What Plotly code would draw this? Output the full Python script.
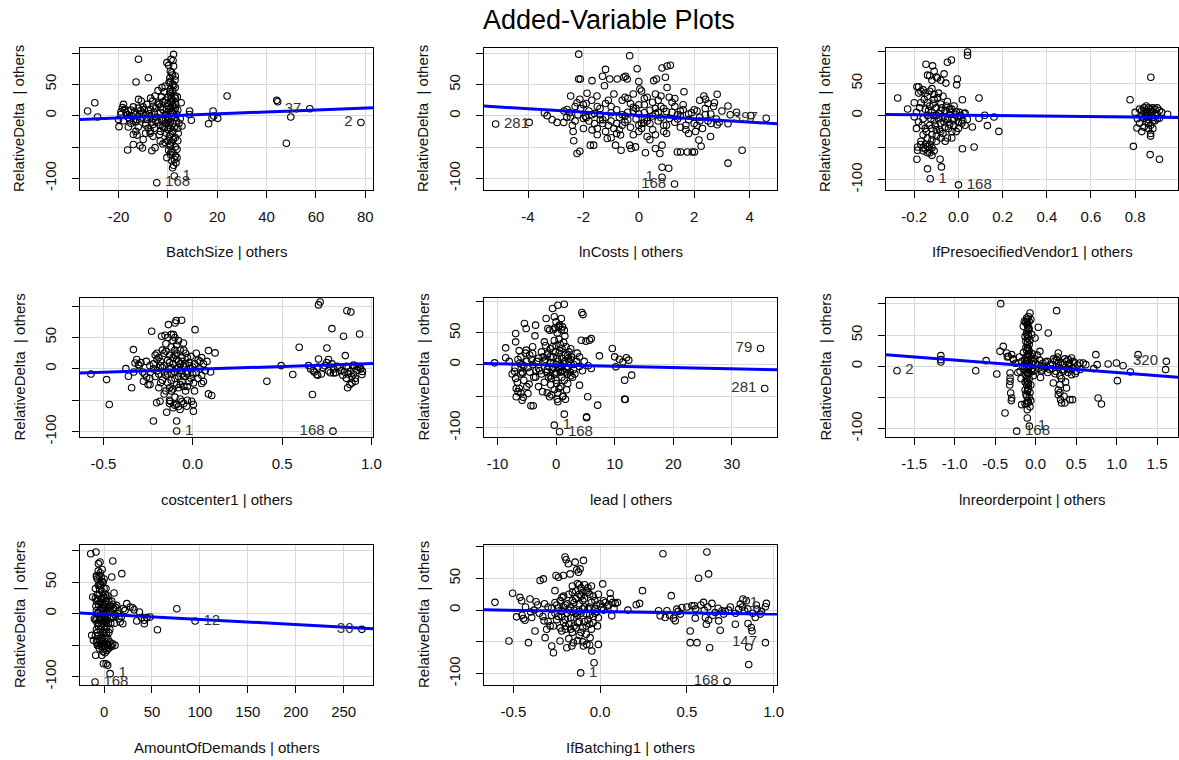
import plotly.graph_objects as go

W, H = 1179, 760

title_text = "Added-Variable Plots"
y_title = "RelativeDelta\u00a0 | others"
x_titles = ["BatchSize | others", "lnCosts | others", "IfPresoecifiedVendor1 | others",
            "costcenter1 | others", "lead | others", "lnreorderpoint | others",
            "AmountOfDemands | others", "IfBatching1 | others"]

# ---------------- data ----------------
batch_pts = [(-32.5,7.4),(-29.6,20.7),(-28.5,-2),(-19.8,-17.5),(-19,6),(-18.4,12.8),(-16.3,-54.8),(-14,-46),
    (-12.9,53.7),(-11.9,90),(-12.5,-31),(-11.3,-48),(-10.3,-51.6),(-11.9,26),(-10.8,23.4),(-7.9,60.6),(-7.2,-28),
    (-6.5,-56),(-5.2,-51),(-4.5,-107),(-6.2,23.4),(-5.2,31.4),(-2.4,44.7),(-1.1,47.3),(-0.4,84.6),(0.3,80.3),(1,71),
    (2.3,97.9),(2.3,79),(1.6,68.6),(3,63.3),(0.5,52.7),(-0.4,-67),(1,-61.7),(3,-64.4),(3.7,-67),(2.3,-79),(1.9,-83),
    (2.6,-96.3),(1,-48.4),(-1.1,-43),(-3.1,-40.4),(3.7,-53.7),(5.7,-16.5),(5.4,20.7),(8.8,7.4),(9.5,-7.4),(8.7,2),
    (16.5,-12.8),(18.3,7.4),(18.6,-0.5),(17.9,-3.2),(20.2,-4.3),(24,31.4),(44.1,24.5),(44.5,22.3),(57.5,11),
    (49.8,-2.1),(48,-44),(78.2,-11),
    (-17,5),(-16,-3),(-15,9),(-14,-8),(-13,2),(-12,12),(-11,-5),(-10,4),(-9,-12),(-8,8),(-7,-2),(-6,15),(-5,-8),
    (-4,3),(-3,-15),(-2,10),(-1,-4),(0,6),(1,-10),(2,18),(3,-3),(4,9),(-18,-8),(-15,-12),(-12,-18),(-10,14),(-8,-20),
    (-6,-5),(-4,20),(-3,-25),(-2,-18),(-1,25),(0,30),(1,35),(2,40),(3,28),(0,-22),(1,-30),(2,-25),(3,-35),(0,-40),
    (1,-45),(2,15),(2,-12),(1,12),(0,-8),(-1,2),(-2,-6),(-5,12),(-7,10),(-9,2),(-11,8),(-13,-10),(-14,14),(-16,8),
    (-19,2),(-20,-6),(4,-20),(5,-5),(3,45),(1,55),(2,50),(0,20),(-1,-12),(-3,5),(-4,-10),(-6,-14),(-7,-25),(-9,-15),
    (3,-50),(2,-58),(4,-40),(1,-20),(2,5),(3,12),(2,25),(1,3),(0,-2),(-2,22),(-3,14),
    (0.5,-15),(1.5,-5),(2.5,8),(1.2,22),(2.8,32),(0.8,38),(2.2,-38),(1.7,-42),(0.2,15),(1.4,28),(2.6,-18),(3.4,-8),
    (3.2,18),(1.8,-28),(0.6,-33),(2.4,48),(1.1,42),(3.6,2),(4.5,-12),(-0.5,10),(-1.5,-20),(-2.5,-8),(-3.5,18),
    (-4.5,-2),(-5.5,5),(-6.5,-10),(-7.5,3),(-8.5,-6),(-9.5,10),(-10.5,-2),(-11.5,3),(-12.5,-6),(-13.5,6),(-14.5,0),
    (-15.5,-5),(-16.5,2),(-17.5,10),(-5.5,-20),(-3.5,-30),(-8.5,18),(-2.5,30),(-1.5,38),(-0.5,-28),(0.3,-55),
    (1.3,-58),(2.7,-70),(1.6,-72),(3.3,-75),(0.8,60),(2.9,57),(1.9,65),(2.1,88),(1.3,90),(3.8,30),(4.2,-28),(-6,-33),
    (-9,-28),(-13,-25),(-16,-18),(-18,18),(-14,-30),(-10,-38),(-2,-45),(-4,40),(-7,28)]

lncost_pts = [(-5.17,-13),(-3.96,-10.3),(-3.41,4.9),(-3.31,0.5),(-3.13,-6),(-2.95,-10.3),(-2.71,-10.3),(-2.47,-1.6),
    (-2.59,10.3),(-2.46,32),(-2.37,-25),(-2.35,-39.7),(-2.23,-60),(-2.13,-56.5),(-2.17,98.9),(-2.17,59),(-2.11,59),
    (-2.13,26.6),(-2.23,21),(-1.93,-0.5),(-1.87,36.4),(-1.75,-46.7),(-1.63,-46.7),(-1.69,56.5),(-1.69,-22.3),
    (-1.51,32),(-1.39,-6),(-1.31,63.6),(-1.2,74.5),(-1.24,48.4),(-1.14,-36),(-1.05,59),(-0.78,59),(-0.66,-30.4),
    (-0.64,-55),(-0.84,-46.7),(-0.54,62),(-0.42,59),(-0.48,63.6),(-0.33,96.2),(-0.33,-46.7),(-0.28,-52),
    (-0.12,-49.5),(-0.06,75.5),(0,55),(0.04,43),(0.18,-11.4),(0.3,-33),(0.24,-59),(0.54,56.5),(0.64,59),(0.6,-52),
    (0.76,-60),(0.84,-46.7),(0.84,76.6),(0.96,62),(1.02,80),(1.14,81),(1.02,45.6),(0.84,-82),(1.08,-83.7),
    (0.84,-98),(1.29,-109),(1.39,-57.6),(1.51,-57.6),(1.63,38.6),(1.75,-57.6),(1.93,-57.6),(2.01,-57.6),(2.05,-25),
    (2.17,-38.6),(2.25,-48.4),(2.35,32),(2.41,26.6),(2.59,-33),(2.73,21),(2.83,34.8),(2.83,-14),(3.22,15.8),
    (3.22,-12.5),(3.22,-75.5),(3.53,6),(3.73,-55),(4.04,0.5),(4.6,-3.8),
    (-2.5,5),(-2.3,-8),(-2.1,12),(-1.9,-3),(-1.8,8),(-1.6,-12),(-1.5,15),(-1.4,2),(-1.3,-6),(-1.2,20),(-1.1,-15),
    (-1,5),(-0.9,-20),(-0.8,10),(-0.7,-2),(-0.6,25),(-0.5,-10),(-0.4,6),(-0.3,-18),(-0.2,14),(-0.1,-5),(0,3),
    (0.1,-12),(0.2,18),(0.3,-3),(0.4,9),(0.5,-22),(0.6,4),(0.7,-8),(0.8,15),(0.9,-15),(1,7),(1.1,-4),(1.2,22),
    (1.3,-10),(1.4,2),(1.5,-18),(1.6,10),(1.8,-6),(1.9,5),(2,-12),(2.1,8),(2.2,-2),(2.4,12),(2.5,-8),(2.6,3),
    (2.8,-5),(3,8),(-2,-20),(-1.7,25),(-1.2,-25),(-0.8,-28),(-0.4,28),(0,-25),(0.3,30),(0.7,25),(1,-28),(1.3,28),
    (-2.4,-15),(-2,18),(-0.5,0),(0.5,0),(1.5,0),(-1,-8),(0.2,-6),(0.9,12),(1.7,-15),(2.3,-20),(2.7,15),(-0.2,35),
    (0.6,35),(0.1,40),(-1,-35),(0.4,-38),
    (-2.2,2),(-2,-4),(-1.8,-8),(-1.6,4),(-1.4,12),(-1.2,-2),(-1,15),(-0.8,-12),(-0.6,2),(-0.4,-6),(-0.2,8),(0,-15),
    (0.2,5),(0.4,-12),(0.6,12),(0.8,-3),(1,-15),(1.2,6),(1.4,-5),(1.6,18),(1.8,3),(2,10),(2.2,-8),(2.4,2),(2.6,-12),
    (-2.3,15),(-1.9,20),(-1.5,-20),(-1.1,25),(-0.7,-22),(-0.3,20),(0.1,-20),(0.5,22),(0.9,-25),(1.3,15),(1.7,-22),
    (2.1,-15),(2.5,20),(-0.9,35),(-0.5,30),(0.2,28),(0.8,32),(1.1,30),(-1.5,-30),(-0.2,-30),(0.6,-30),(1.8,-28),
    (-2.6,-2),(-2.7,8),(-0.1,12),(0.3,-8),(0.7,6),(1.5,8),(-1.3,-12),(-0.6,-15),(2.9,-10),(3.3,2),(2.2,25),(-1.7,2),
    (0,18)]

vendor_pts = [(-0.275,27.4),(-0.23,10.2),(-0.188,45),(-0.185,-54),(-0.188,-68),(-0.185,-49),(-0.147,80),
    (-0.14,-83),(-0.128,-98.5),(-0.117,77.5),(-0.11,69),(-0.14,63),(-0.095,58.6),(-0.083,-68),(-0.077,-80),
    (-0.065,65),(-0.057,50.6),(-0.05,83),(-0.032,86.6),(-0.005,57),(-0.008,47.9),(0.041,99),(0.041,93.6),(0,-108),
    (0.018,-51.6),(0.018,24.7),(0.071,-49),(0.063,-17.8),(0.093,27.4),(0.093,-4.3),(0.119,0.5),(0.131,-15.6),
    (0.161,-2.2),(0.183,-24.7),
    (-0.19,5),(-0.18,-10),(-0.17,20),(-0.16,-5),(-0.15,10),(-0.15,-20),(-0.14,30),(-0.14,0),(-0.13,-15),(-0.13,15),
    (-0.12,-30),(-0.12,5),(-0.11,25),(-0.11,-8),(-0.1,12),(-0.1,-22),(-0.09,3),(-0.09,35),(-0.08,-12),(-0.08,18),
    (-0.07,-3),(-0.07,-28),(-0.06,8),(-0.06,-18),(-0.05,22),(-0.05,-6),(-0.04,2),(-0.04,-14),(-0.03,10),
    (-0.03,-25),(-0.02,-4),(-0.01,6),(0,-10),(0.01,0),(0.02,-8),(0.03,4),(0.04,-6),(-0.16,40),(-0.12,42),
    (-0.17,-40),(-0.14,-48),(-0.13,-52),(-0.12,-50),(-0.11,-55),(-0.15,-52),(-0.13,-45),(-0.1,-40),(-0.08,-35),
    (-0.18,35),(-0.2,-2),(-0.07,30),(-0.05,-35),(-0.02,15),(0.0,-20),(-0.09,-5),(-0.11,0),
    (-0.175,12),(-0.165,-15),(-0.155,25),(-0.145,-25),(-0.135,8),(-0.125,-5),(-0.115,18),(-0.105,-15),(-0.095,28),
    (-0.085,-22),(-0.075,12),(-0.065,-10),(-0.055,15),(-0.045,-20),(-0.035,5),(-0.025,-8),(-0.015,2),(-0.005,-2),
    (-0.16,-30),(-0.14,-35),(-0.12,-38),(-0.1,-32),(-0.08,-25),(-0.06,-40),(-0.15,35),(-0.13,38),(-0.11,33),
    (-0.17,-45),(-0.16,-55),(-0.14,-58),(-0.12,-62),(-0.16,-50),(-0.15,-45),(-0.13,-58),(-0.12,-20),(-0.1,0),
    (-0.14,20),(-0.08,8),(-0.06,-5),(-0.04,10),(-0.02,-15),(0.005,5),(0.015,-12),(0.025,3),(-0.19,-20),(-0.2,20),
    (-0.18,45),(-0.17,38),(-0.12,55),(-0.1,60),(-0.08,55),(-0.13,62),(-0.03,-35),(-0.01,-25),(0.03,-15),
    (0.777,24.7),(0.792,-48),(0.808,-19.4),(0.871,59.7),(0.868,-60.8),(0.91,-68),(0.947,2),
    (0.8,5),(0.81,-5),(0.82,10),(0.83,-2),(0.84,8),(0.85,-10),(0.85,3),(0.86,12),(0.86,-6),(0.87,0),(0.87,-15),
    (0.88,6),(0.88,-3),(0.89,10),(0.89,-8),(0.9,2),(0.91,-4),(0.92,5),(0.84,-18),(0.86,-20),(0.87,-28),(0.83,-25),
    (0.88,-20),(0.9,12),(0.85,15),(0.82,-12),(0.87,-32),
    (0.83,8),(0.84,-4),(0.85,6),(0.86,-12),(0.87,10),(0.88,-8),(0.89,2),(0.9,-5),(0.91,8),(0.86,2),(0.87,6),
    (0.85,-2),(0.88,12),(0.84,12)]

cc_pts = [(-0.57,-8),(-0.482,-17),(-0.467,-56.8),(-0.374,0.5),(-0.36,-11.7),(-0.342,-30),(-0.332,30.8),
    (-0.323,9.5),(-0.314,14.9),(-0.304,6.9),(-0.276,-19.6),(-0.258,-13.3),(-0.239,-25),(-0.23,60),(-0.22,-83),
    (-0.202,-54),(-0.183,-51.5),(-0.174,52),(-0.155,53.6),(-0.146,-69),(-0.136,70.6),(-0.127,-51.5),(-0.108,54.6),
    (-0.099,73.2),(-0.093,77),(-0.09,-83),(-0.09,-99),(-0.09,-56.8),(-0.071,-64.7),(-0.062,77.5),(-0.052,41.4),
    (-0.034,-59.4),(-0.006,-51.5),(0.004,-67.4),(0.013,62.6),(0.004,-56.8),(0.004,-22.3),(0.05,-23.3),(0.088,29.2),
    (0.088,-39.8),(0.106,-42.4),(0.125,25.5),(0.041,12.2),(0.415,-19.6),(0.495,5.3),(0.56,-9),(0.596,34.5),
    (0.648,5.3),(0.67,-40.8),(0.675,-2.6),(0.704,102),(0.713,106.6),(0.704,15.9),(0.695,-9),(0.751,33.4),
    (0.76,14.9),(0.779,64.2),(0.785,-99.2),(0.788,-6.4),(0.844,52),(0.854,21.2),(0.863,92.8),(0.885,90.7),
    (0.867,-30),(0.891,-22.3),(0.91,-19.6),(0.934,55.7),(0.938,1.6),(0.947,-9),
    (-0.3,5),(-0.28,-5),(-0.26,12),(-0.24,-15),(-0.22,8),(-0.2,-3),(-0.19,18),(-0.18,-22),(-0.17,2),(-0.16,25),
    (-0.15,-10),(-0.14,14),(-0.13,-30),(-0.13,0),(-0.12,35),(-0.12,-18),(-0.11,8),(-0.1,-5),(-0.1,22),(-0.09,-25),
    (-0.08,12),(-0.08,-12),(-0.07,30),(-0.07,-2),(-0.06,-20),(-0.06,18),(-0.05,5),(-0.04,-35),(-0.04,25),
    (-0.03,-8),(-0.02,10),(-0.01,-15),(0,3),(0.02,-6),(0.03,14),(0.05,-10),(0.06,8),(0.08,12),(0.07,-3),
    (-0.25,-25),(-0.21,22),(-0.15,40),(-0.11,45),(-0.09,38),(-0.16,-40),(-0.1,-45),(-0.13,-50),(-0.07,-48),
    (-0.05,-55),(-0.08,-60),(-0.03,-50),(0.01,-35),(-0.2,15),(-0.14,-8),(-0.09,0),(-0.05,-28),(-0.18,5),(0.04,0),
    (-0.01,20),(-0.11,-32),
    (-0.22,0),(-0.21,-12),(-0.2,25),(-0.19,-8),(-0.18,12),(-0.17,-18),(-0.16,5),(-0.15,28),(-0.14,-22),(-0.13,10),
    (-0.12,-8),(-0.11,18),(-0.1,-15),(-0.09,25),(-0.08,2),(-0.07,-25),(-0.06,12),(-0.05,-12),(-0.04,8),(-0.03,18),
    (-0.02,-20),(-0.01,0),(0.01,8),(0.03,-15),(0.05,18),(-0.17,30),(-0.13,22),(-0.09,15),(-0.05,30),(-0.12,-35),
    (-0.08,-30),(-0.03,-28),(-0.15,-35),(-0.1,30),(-0.07,8),(-0.04,-5),(-0.16,-5),(-0.12,2),(-0.06,-8),(-0.02,5),
    (0.0,-8),(-0.19,-30),(-0.24,5),(-0.27,-8),(-0.29,10),(-0.33,-5),(-0.14,50),(-0.12,55),(-0.1,50),(-0.08,45),
    (-0.13,-55),(-0.1,-58),(-0.06,-52),(-0.11,-62),(0.02,25),(0.06,-20),(0.1,-5),
    (0.66,0),(0.68,-5),(0.7,3),(0.72,-8),(0.74,5),(0.76,-3),(0.78,8),(0.8,-6),(0.82,2),(0.84,-10),(0.86,4),
    (0.88,-4),(0.9,6),(0.92,-2),(0.94,0),(0.89,-12),(0.91,-15),(0.87,-8),(0.83,-3),(0.79,0),(0.93,3),
    (0.7,-10),(0.73,2),(0.77,-6),(0.81,4),(0.85,-5),(0.87,2),(0.9,-8),(0.92,4),(0.86,-15),(0.88,-25),(0.95,-4),
    (0.75,10)]

lead_pts = [(-10.5,2.6),(-8.6,26.4),(-8.6,10.6),(-6.9,49),(-6.9,35.9),(-7.1,-10.6),(-6.9,-22),(-6.8,-51),
    (-6.5,-43),(-6.3,-38),(-5.8,-56.5),(-5.7,-14),(-5.4,65),(-5.1,57),(-5.1,22.7),(-4.8,-46),(-4.6,-31),
    (-4.3,-65.4),(-3.9,-65.4),(-3.5,62.3),(-3.6,45.4),(-4,17.4),(-3.4,-9),(-2.3,-43),(-2,35.9),(-1.7,72.8),
    (-1.4,57),(-1.1,54.4),(-0.6,88.6),(-0.3,75.5),(0,67.5),(0.3,93.9),(0.6,62.3),(0.9,72.8),(1.1,59.6),(1.4,95.5),
    (1.4,54.4),(-0.3,-96),(0.6,-106.6),(1.4,-78.6),(0.3,-59),(-1.1,-51),(1.1,-51),(4,-32.7),(4.3,38.5),(4.4,82.3),
    (4.6,79),(5.1,37),(5.4,-51),(5.2,-82.8),(5.2,-84.4),(5.7,38.5),(6,41),(6,-6.3),(7.1,-64.4),(7.4,13.7),
    (9.6,25.3),(10,12.1),(10.2,-3.7),(10.8,8.4),(11.4,4.2),(11.7,-24.8),(11.7,-54.9),(11.8,-55.4),(12,10.6),
    (12.4,6.9),(12.9,-16.9),(34.9,25.3),(35.6,-38),
    (-7,-5),(-6.5,8),(-6,-15),(-6,12),(-5.5,-2),(-5.5,-25),(-5,5),(-5,-35),(-4.5,15),(-4.5,-12),(-4,0),
    (-3.5,-20),(-3,10),(-3,-6),(-2.5,20),(-2.5,-15),(-2,5),(-2,-28),(-1.5,15),(-1.5,-8),(-1,25),(-1,-18),(-1,3),
    (-0.5,-5),(-0.5,12),(0,30),(0,-25),(0,0),(0,-12),(0.5,18),(0.5,-8),(0.5,40),(1,-3),(1,10),(1,-20),(1,25),
    (1.5,-12),(1.5,5),(1.5,45),(2,-30),(2,15),(2,-5),(2.5,8),(2.5,-18),(3,0),(3,-8),(3.5,5),(4,-3),(4,12),
    (-0.3,-40),(0.3,-45),(1.2,-50),(-0.8,-48),(0.8,-35),(2.2,20),(-1.8,30),(-6.8,-38),(-6,-45),(-5.6,-52),
    (-7.5,-15),(-8,5),(-6.3,22),(-5.8,0),(0.2,50),(-0.5,55),(1.8,-40),
    (-1.8,8),(-1.6,-12),(-1.4,18),(-1.2,-4),(-1,12),(-0.8,-22),(-0.6,28),(-0.4,2),(-0.2,-15),(0.2,10),(0.4,-5),
    (0.6,22),(0.8,-12),(1.2,2),(1.4,-25),(1.6,15),(1.8,-8),(2.2,5),(2.4,-12),(2.6,12),(2.8,-20),(0.1,-30),(0.7,32),
    (1.3,35),(-0.3,38),(0.5,-38),(1.7,28),(-0.9,-32),(2.5,25),(0.3,5),(0.9,-2),(1.1,-10),(1.9,-15),(2.1,10),
    (-0.1,20),(-0.7,-8),(-1.3,-20),(-2.2,12),(-2.8,-10),(-3.3,5),(-3.8,-20),(-4.2,8),(-4.8,-5),(-5.2,18),
    (-5.8,-12),(-6.2,2),(-6.6,-28),(-4,28),(-3,-35),(0.4,60),(0.9,55),(-0.2,58),(1.6,-55),(0.2,-55),(-1.5,-45),
    (3.2,-15),(3.6,18),(4.5,-10),(4.8,5),(5.5,-2)]

reorder_pts = [(-1.713,-7),(-1.171,17.1),(-1.171,10.7),(-1.171,7),(-0.74,-7),(-0.612,9.1),(-0.48,-12.3),
    (-0.44,24),(-0.431,100.5),(-0.4,32),(-0.378,-75),(-0.357,21.4),(-0.337,16),(-0.316,-10.7),(-0.316,-18.7),
    (-0.316,-24),(-0.308,-42.8),(-0.296,-50.8),(-0.296,18.7),(-0.275,10.7),(-0.193,-8),(-0.173,-61.5),
    (-0.234,-104),(-0.152,64.2),(-0.14,72.2),(-0.111,77.5),(-0.09,80),(-0.07,85.6),(-0.103,-83),(-0.078,-96),
    (-0.103,-69.5),(-0.049,50.8),(-0.008,45.5),(0.033,62.6),(0.053,24),(0.156,53.5),(0.218,-26.7),(0.238,9.1),
    (0.259,89.3),(0.28,21.4),(0.28,-45.5),(0.3,-29.4),(0.308,-53.5),(0.32,-58.8),(0.361,-58.8),(0.382,-34.8),
    (0.403,10.7),(0.423,-53.5),(0.444,13.4),(0.456,-53.5),(0.444,-13.4),(0.464,-2.7),(0.546,5.3),(0.588,5.3),
    (0.62,2.7),(0.719,-3.7),(0.744,18.7),(0.76,2.7),(0.772,-50.8),(0.813,-60.4),(0.896,3.7),(0.998,5.3),
    (1.01,-23),(1.08,1),(1.171,-9),(1.266,18.7),(1.615,8),(1.606,-5.3),
    (-0.12,70),(-0.1,65),(-0.08,60),(-0.11,55),(-0.09,50),(-0.1,45),(-0.12,40),(-0.08,35),(-0.1,30),(-0.11,25),
    (-0.09,20),(-0.12,15),(-0.1,10),(-0.08,5),(-0.11,0),(-0.09,-5),(-0.1,-10),(-0.12,-15),(-0.08,-20),(-0.1,-25),
    (-0.11,-30),(-0.09,-35),(-0.1,-40),(-0.12,-45),(-0.08,-50),(-0.1,-55),(-0.11,-60),(-0.07,-65),(-0.13,5),
    (-0.06,12),(-0.05,-8),(-0.14,-5),(-0.04,20),(-0.03,-15),(-0.15,22),(-0.06,-30),(-0.13,-38),(-0.07,42),
    (-0.09,58),(-0.06,75),(-0.2,15),(-0.25,5),(-0.22,-10),(-0.18,-20),(-0.28,12),(-0.17,8),
    (0,5),(0.03,-3),(0.05,10),(0.08,-6),(0.1,0),(0.12,7),(0.15,-10),(0.18,3),(0.2,-4),(0.22,12),(0.25,-8),
    (0.28,5),(0.3,-15),(0.33,2),(0.35,-5),(0.38,8),(0.4,-10),(0.42,4),(0.45,-3),(0.48,6),(0.5,-8),(0.32,-20),
    (0.37,-25),(0.27,15),(0.02,18),(0.06,-18),
    (-0.1,68),(-0.09,62),(-0.11,52),(-0.1,38),(-0.09,28),(-0.1,18),(-0.11,8),(-0.09,-2),(-0.1,-12),(-0.11,-22),
    (-0.09,-28),(-0.1,-38),(-0.11,-48),(-0.09,-58),(-0.12,30),(-0.08,25),(-0.12,-8),(-0.08,-12),(-0.07,0),
    (-0.13,-25),(-0.07,18),(-0.13,48),(-0.07,-42),(-0.06,-55),(-0.13,-60),(-0.12,72),(-0.08,72),(-0.1,75),
    (-0.14,10),(-0.05,5),(-0.04,-3),(-0.16,0),(-0.03,8),(-0.02,-8),(-0.01,12),
    (0.04,2),(0.07,-8),(0.09,5),(0.11,-3),(0.14,8),(0.17,-5),(0.21,2),(0.24,-12),(0.26,10),(0.29,-2),(0.31,6),
    (0.34,-8),(0.36,12),(0.39,-4),(0.41,2),(0.43,-6),(0.46,8),(0.49,-12),(0.52,2),(0.55,-5),(0.3,-42),(0.35,-48),
    (0.28,-38),(-0.3,-55),(-0.32,-30),(-0.35,15)]

amount_pts = [(-13.9,95),(-8.4,97.9),(-9.4,-108.5),(-12.9,-34.4),(-11.1,-42.3),(-8.7,-66),(-5.9,79.4),(-4.2,82),
    (-7.7,58.2),(-11.8,26.5),(-10.1,-8),(-2.4,-66),(-0.7,-79.4),(2.1,-79.4),(3.8,-82),(6.3,-95.2),(8,58.2),
    (9.1,83.6),(10.4,32.8),(11.5,-50.3),(13.2,13.2),(15.7,-7.9),(16.7,-13.2),(18.5,63.5),(19.5,-15.9),(21.9,5.3),
    (23.7,15.9),(27.2,10.6),(29.9,9.5),(31.3,6.3),(34.1,-11.6),(36.9,2.6),(39.3,-6.3),(42,-10.6),(42,-15.9),
    (44.6,-6.3),(48,-5.3),(55.7,-25.4),(75.9,7.9),(95,-11.6),(269,-24.9),
    (-9,40),(-8,20),(-7,0),(-6,-20),(-5,30),(-4,-10),(-3,10),(-2,-30),(-1,50),(0,-5),(1,15),(2,-15),(3,25),
    (4,-40),(5,5),(6,-8),(7,12),(-8,-45),(-6,-50),(-4,-48),(-2,-52),(0,-50),(2,-55),(4,-50),(6,-45),(8,-52),
    (-7,55),(-5,60),(-3,45),(-6,15),(-4,-25),(-2,35),(0,25),(2,40),(1,-35),(3,-20),(-1,-15),(-9,-10),(-8,5),
    (-5,-5),(-3,-40),(0,8),(5,20),(6,-25),(8,-5),(10,8),(12,-2),(-7,-30),(-6,45),(-4,65),(-2,70),(-1,-60),
    (1,-62),(3,-58),(-3,22),(-1,0),(1,-8),(2,3),(4,10),(-9,25),(-7,-15),(9,15),(11,-15),(14,0),
    (-8,-25),(-7,30),(-6,-35),(-5,45),(-4,5),(-3,-20),(-2,15),(-1,-45),(0,40),(1,-25),(2,20),(3,-10),(4,28),
    (-8.5,12),(-7.5,-8),(-6.5,22),(-5.5,-15),(-4.5,38),(-3.5,-5),(-2.5,25),(-1.5,-38),(-0.5,12),(0.5,-20),(1.5,30),
    (2.5,-30),(3.5,8),(4.5,-15),(-7,-50),(-5,-55),(-3,-52),(-1,-50),(1,-52),(3,-48),(5,-55),(7,-50),(9,-48),
    (-8,60),(-6,68),(-3,58),(-2,50),(0,55),(-4,48),(-5,-42),(-7,-42),(-9,-35),(-2,-8),(0,-30),(2,-40),(6,5),
    (7,-15),(8,20),(10,-5),(12,10),(15,5),(18,-5),(20,8),(-6,2),(-4,18),(-1,28),(1,-12),(3,5),(5,-30)]

batching_pts = [(-0.606,12.2),(-0.525,-48.7),(-0.504,26.5),(-0.481,-10.6),(-0.462,20.1),(-0.452,14.8),
    (-0.442,-13.2),(-0.433,-15.9),(-0.413,-51.3),(-0.404,17.5),(-0.394,-11.6),(-0.375,-32.8),(-0.369,13.2),
    (-0.346,46.6),(-0.327,49.2),(-0.323,-16.9),(-0.317,-43.4),(-0.308,-30.2),(-0.288,-24.9),(-0.279,-56.6),
    (-0.269,-67.2),(-0.26,30.7),(-0.254,54.5),(-0.24,51.8),(-0.231,-48.7),(-0.221,-32.8),(-0.212,54.5),
    (-0.202,83.6),(-0.196,79.4),(-0.183,73),(-0.173,57.1),(-0.192,-59.2),(-0.163,-56.6),(-0.154,-51.3),
    (-0.144,75.6),(-0.135,63.5),(-0.125,59.8),(-0.115,65),(-0.096,78.3),(-0.112,-98.9),(-0.096,-56.6),
    (-0.077,-54),(-0.058,-43.4),(-0.048,-64.5),(-0.035,-83),(-0.015,-24.9),(-0.01,-54),(0.015,41.3),(0.019,14.8),
    (0.058,26.5),(0.067,-9),(0.073,12.2),(0.087,10.6),(0.16,0),(0.208,8.5),(0.227,10.6),(0.244,30.7),(0.337,-1),
    (0.346,-9),(0.362,88.9),(0.375,-11.6),(0.385,-1),(0.41,22.8),(0.423,-12.7),(0.433,-16.9),(0.442,1.6),
    (0.462,-6.3),(0.471,4.2),(0.519,-32.8),(0.529,6.9),(0.519,-51.3),(0.542,6.9),(0.548,-12.7),(0.558,-51.3),
    (0.567,50.2),(0.596,12.2),(0.606,-11.6),(0.612,-22.2),(0.615,91.5),(0.625,57.1),(0.625,-15.9),(0.631,-59.2),
    (0.644,10.6),(0.663,-3.7),(0.683,-16.9),(0.692,-31.7),(0.702,-1),(0.712,-6.3),(0.731,-112),(0.74,0),
    (0.779,-22.2),(0.798,1.6),(0.808,9.5),(0.823,17.5),(0.833,-1),(0.842,14.8),(0.852,-21.2),(0.856,-58.2),
    (0.856,-85.7),(0.871,-27.5),(0.875,-32.8),(0.894,-11.6),(0.904,1.6),(0.923,-6.3),(0.952,5.3),(0.952,-51.3),
    (0.958,10.6),
    (-0.3,5),(-0.28,-8),(-0.26,12),(-0.25,-15),(-0.24,3),(-0.22,20),(-0.21,-20),(-0.2,8),(-0.19,-5),(-0.18,25),
    (-0.17,-12),(-0.16,15),(-0.15,-25),(-0.15,0),(-0.14,30),(-0.13,-8),(-0.12,10),(-0.12,-18),(-0.11,35),(-0.1,2),
    (-0.1,-28),(-0.09,18),(-0.08,-6),(-0.07,28),(-0.07,-15),(-0.06,5),(-0.05,38),(-0.04,-10),(-0.03,15),
    (-0.02,-3),(0,10),(0.02,0),(0.04,6),(-0.35,-5),(-0.32,10),(-0.38,0),(-0.45,-8),(-0.43,5),(-0.2,-30),
    (-0.16,-35),(-0.12,-40),(-0.08,-38),(-0.05,-30),(-0.18,-45),(-0.22,-10),(-0.09,40),(-0.13,42),(-0.06,25),
    (-0.14,-5),(-0.11,22),(-0.01,25),(0.06,18),(-0.27,-25),(-0.3,-18),
    (-0.25,8),(-0.24,-10),(-0.23,15),(-0.22,-2),(-0.21,22),(-0.2,-15),(-0.19,10),(-0.18,-22),(-0.17,5),(-0.16,28),
    (-0.15,-12),(-0.14,18),(-0.13,-20),(-0.12,25),(-0.11,-5),(-0.1,15),(-0.09,-18),(-0.08,30),(-0.07,2),
    (-0.06,-22),(-0.05,12),(-0.04,22),(-0.03,-5),(-0.02,8),(-0.01,-12),(0.01,4),(0.03,12),(-0.21,5),(-0.18,0),
    (-0.15,12),(-0.12,-2),(-0.09,5),(-0.06,-8),(-0.03,2),(-0.2,-25),(-0.17,-30),(-0.14,-28),(-0.11,-35),
    (-0.08,-25),(-0.16,38),(-0.12,40),(-0.1,28),(-0.07,35),(-0.04,-20),(-0.23,-28),(-0.26,-5),(-0.28,3),
    (-0.33,-10),(-0.36,8),(-0.4,-3),(-0.13,-48),(-0.1,-50),(-0.06,-55),(0.05,8),(0.08,3),(0.1,12),
    (0.55,2),(0.58,8),(0.6,0),(0.62,5),(0.65,-8),(0.68,3),(0.72,-2),(0.75,5),(0.78,-5),(0.82,5),(0.85,2),
    (0.88,-5),(0.9,8),(0.93,-2),(0.5,5),(0.45,-2),(0.4,-8)]

panel_points = [batch_pts, lncost_pts, vendor_pts, cc_pts, lead_pts, reorder_pts, amount_pts, batching_pts]

# fitted least-squares lines (intercept, slope)
fit_intercepts = [-0.3, 0.85, 0.5, -0.67, -0.86, 0.1, -1.04, -2.2]
fit_slopes = [0.1575, -2.675, -3.5, 9.08, -0.2, -10.06, -0.0811, -4.03]

# labelled observations: (text, x, y, side)
point_labels = [
    [("37", 57.5, 11, "L"), ("2", 78.2, -11, "L"), ("1", 2.6, -96.3, "R"), ("168", -4.5, -107, "R")],
    [("281", -5.17, -13, "R"), ("1", 0.84, -98, "L"), ("168", 1.29, -109, "L"), ("397", 4.6, -3.8, "L")],
    [("1", -0.128, -98.5, "R"), ("168", 0, -108, "R")],
    [("1", -0.09, -99, "R"), ("168", 0.785, -99.2, "L")],
    [("79", 34.9, 25.3, "L"), ("281", 35.6, -38, "L"), ("1", -0.3, -96, "R"), ("168", 0.6, -106.6, "R")],
    [("2", -1.713, -7, "R"), ("320", 1.615, 8, "L"), ("1", -0.078, -96, "R"), ("168", -0.234, -104, "R")],
    [("1", 6.3, -95.2, "R"), ("168", -9.4, -108.5, "R"), ("12", 95, -11.6, "R"), ("30", 269, -24.9, "L")],
    [("1", -0.112, -98.9, "R"), ("168", 0.731, -112, "L"), ("147", 0.952, -51.3, "L"), ("71", 0.958, 10.6, "L")],
]

x_tickvals = [[-20, 0, 20, 40, 60, 80], [-4, -2, 0, 2, 4], [-0.2, 0, 0.2, 0.4, 0.6, 0.8], [-0.5, 0, 0.5, 1.0],
              [-10, 0, 10, 20, 30], [-1.5, -1.0, -0.5, 0, 0.5, 1.0, 1.5], [0, 50, 100, 150, 200, 250],
              [-0.5, 0, 0.5, 1.0]]
x_ticktext = [["-20", "0", "20", "40", "60", "80"], ["-4", "-2", "0", "2", "4"],
              ["-0.2", "0.0", "0.2", "0.4", "0.6", "0.8"], ["-0.5", "0.0", "0.5", "1.0"],
              ["-10", "0", "10", "20", "30"], ["-1.5", "-1.0", "-0.5", "0.0", "0.5", "1.0", "1.5"],
              ["0", "50", "100", "150", "200", "250"], ["-0.5", "0.0", "0.5", "1.0"]]
y_tickvals = [-100, -50, 0, 50, 100]
y_ticktext = ["-100", "", "0", "50", ""]

# ---------------- layout / style ----------------
x_ranges = [[-35.6, 83.1], [-5.59, 4.99], [-0.328, 0.994], [-0.631, 1.009], [-12.3, 37.7], [-1.849, 1.759],
            [-25.1, 280.6], [-0.669, 1.019]]
y_ranges = [[-118.6, 108], [-118.5, 108.7], [-116, 105.3], [-108.5, 113], [-114.8, 105.3], [-113.4, 109.6],
            [-113.2, 109], [-118, 102.6]]
col_px = [(80, 373), (484, 777), (886, 1178)]
row_px = [(48, 190), (298, 437), (545, 685)]

FONT = "Liberation Sans, Arial, sans-serif"
TXT = "#111111"
NB = "\u00a0"

fig = go.Figure()
annotations = []
layout_axes = {}

for i in range(8):
    c, r = i % 3, i // 3
    l, rr = col_px[c]
    t, b = row_px[r]
    n = "" if i == 0 else str(i + 1)
    xa, ya = "x" + n, "y" + n
    pts = panel_points[i]
    xs = [p[0] for p in pts]
    ys = [p[1] for p in pts]
    fig.add_trace(go.Scatter(x=xs, y=ys, mode="markers", xaxis=xa, yaxis=ya, showlegend=False,
                             marker=dict(symbol="circle-open", size=6.5, color="black", line=dict(width=1.1))))
    x0, x1 = x_ranges[i]
    a, s = fit_intercepts[i], fit_slopes[i]
    fig.add_trace(go.Scatter(x=[x0, x1], y=[a + s * x0, a + s * x1], mode="lines", xaxis=xa, yaxis=ya,
                             showlegend=False, line=dict(color="#0000FF", width=3)))
    labs = point_labels[i]
    fig.add_trace(go.Scatter(x=[q[1] for q in labs], y=[q[2] for q in labs],
                             text=[(q[0] + NB * 2) if q[3] == "L" else (NB * 2 + q[0]) for q in labs],
                             mode="text", xaxis=xa, yaxis=ya, showlegend=False, cliponaxis=True,
                             textposition=["middle left" if q[3] == "L" else "middle right" for q in labs],
                             textfont=dict(family=FONT, size=15, color="#333333")))
    common = dict(showline=True, linecolor="black", linewidth=1, mirror=True, ticks="outside", ticklen=7,
                  tickcolor="black", tickwidth=1, showgrid=True, gridcolor="#D9D9D9", gridwidth=1,
                  zeroline=False, tickfont=dict(family=FONT, size=15, color=TXT))
    layout_axes["xaxis" + n] = dict(domain=[l / W, rr / W], range=x_ranges[i], anchor=ya,
                                    tickvals=x_tickvals[i], ticktext=x_ticktext[i], ticklabelstandoff=6, **common)
    layout_axes["yaxis" + n] = dict(domain=[1 - b / H, 1 - t / H], range=y_ranges[i], anchor=xa,
                                    tickvals=y_tickvals, ticktext=y_ticktext, tickangle=-90,
                                    ticklabelstandoff=10, **common)
    annotations.append(dict(x=(l + rr) / 2 / W, y=1 - (b + 62) / H, xref="paper", yref="paper",
                            text=x_titles[i], showarrow=False, xanchor="center", yanchor="middle",
                            font=dict(family=FONT, size=15, color=TXT)))
    annotations.append(dict(x=(l - 61) / W, y=1 - (t + b) / 2 / H, xref="paper", yref="paper",
                            text=y_title, showarrow=False, textangle=-90, xanchor="center", yanchor="middle",
                            font=dict(family=FONT, size=15, color=TXT)))

annotations.append(dict(x=608.5 / W, y=1 - 20 / H, xref="paper", yref="paper", text=title_text,
                        showarrow=False, xanchor="center", yanchor="middle",
                        font=dict(family=FONT, size=27, color="#000000")))

fig.update_layout(width=W, height=H, margin=dict(l=0, r=0, t=0, b=0, autoexpand=False),
                  paper_bgcolor="white", plot_bgcolor="white", annotations=annotations, **layout_axes)

fig.write_html("out.html", config={"displayModeBar": False},
               post_script="document.body.style.margin='0px';")
